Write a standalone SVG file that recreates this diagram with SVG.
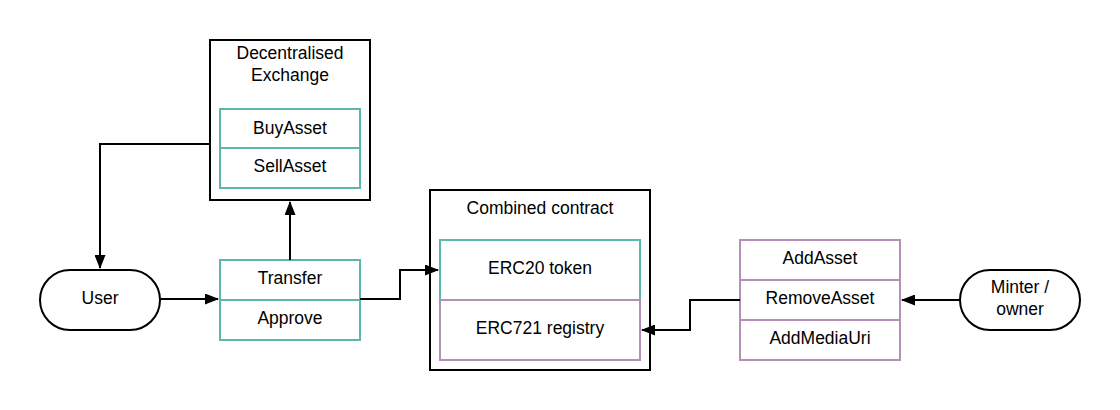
<svg xmlns="http://www.w3.org/2000/svg" width="1120" height="410" viewBox="0 0 1120 410">
<defs>
<marker id="arr" markerWidth="14" markerHeight="11" refX="13" refY="5.5" orient="auto" markerUnits="userSpaceOnUse">
<path d="M0,0 L14,5.5 L0,11 Z" fill="#000"/>
</marker>
<style>
text{font-family:"Liberation Sans",Arial,sans-serif;font-size:17.5px;fill:#000;text-anchor:middle;}
.blk{fill:#fff;stroke:#000;stroke-width:2;}
.teal{fill:#fff;stroke:#5db8a7;stroke-width:2;}
.purp{fill:#fff;stroke:#b48fb8;stroke-width:2;}
.conn{fill:none;stroke:#000;stroke-width:2;marker-end:url(#arr);}
</style>
</defs>
<rect width="1120" height="410" fill="#fff"/>
<g id="dex">
<rect class="blk" x="210" y="40" width="160" height="160"/>
<text x="290" y="59">Decentralised</text>
<text x="290" y="81">Exchange</text>
<rect class="teal" x="220" y="109" width="140" height="79"/>
<line x1="220" y1="148" x2="360" y2="148" stroke="#5db8a7" stroke-width="2"/>
<text x="290" y="134">BuyAsset</text>
<text x="290" y="172">SellAsset</text>
</g>
<g id="user">
<rect class="blk" x="40" y="270" width="120" height="60" rx="30"/>
<text x="100" y="304">User</text>
</g>
<g id="transfer">
<rect class="teal" x="220" y="260" width="140" height="80"/>
<line x1="220" y1="300" x2="360" y2="300" stroke="#5db8a7" stroke-width="2"/>
<text x="290" y="284">Transfer</text>
<text x="290" y="324">Approve</text>
</g>
<g id="combined">
<rect class="blk" x="430" y="190" width="220" height="180"/>
<text x="540" y="214">Combined contract</text>
<rect class="teal" x="440" y="240" width="200" height="60"/>
<rect class="purp" x="440" y="300" width="200" height="60"/>
<line x1="440" y1="300" x2="640" y2="300" stroke="#b48fb8" stroke-width="2"/>
<text x="540" y="274">ERC20 token</text>
<text x="540" y="334">ERC721 registry</text>
</g>
<g id="assets">
<rect class="purp" x="740" y="240" width="160" height="120"/>
<line x1="740" y1="280" x2="900" y2="280" stroke="#b48fb8" stroke-width="2"/>
<line x1="740" y1="320" x2="900" y2="320" stroke="#b48fb8" stroke-width="2"/>
<text x="820" y="264">AddAsset</text>
<text x="820" y="304">RemoveAsset</text>
<text x="820" y="344">AddMediaUri</text>
</g>
<g id="minter">
<rect class="blk" x="960" y="270" width="120" height="60" rx="30"/>
<text x="1020" y="293">Minter /</text>
<text x="1020" y="315">owner</text>
</g>
<g id="connectors">
<path class="conn" d="M210,144 L100,144 L100,268"/>
<path class="conn" d="M290,260 L290,202"/>
<path class="conn" d="M160,299 L218,299"/>
<path class="conn" d="M360,299 L400,299 L400,270 L438,270"/>
<path class="conn" d="M740,300 L690,300 L690,330 L642,330"/>
<path class="conn" d="M960,300 L902,300"/>
</g>
</svg>
